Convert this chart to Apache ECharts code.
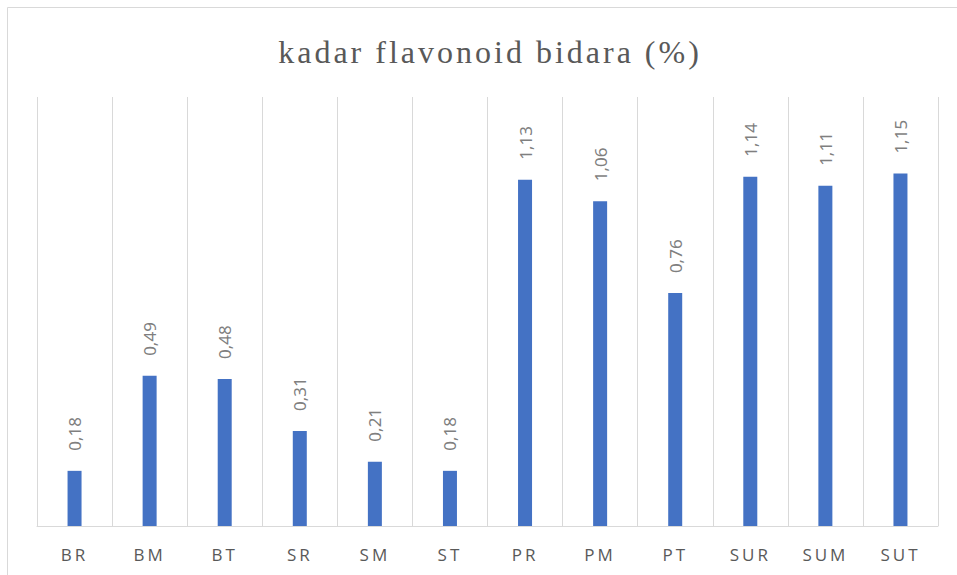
<!DOCTYPE html>
<html>
<head>
<meta charset="utf-8">
<script src="https://cdn.jsdelivr.net/npm/echarts@6/dist/echarts.min.js"></script>
<style>
  * { margin: 0; padding: 0; }
  html, body { width: 957px; height: 575px; background: #fff; overflow: hidden; }
  #chart { width: 957px; height: 575px; }
  /* letter spacing like the original (title + category labels) */
  #chart text[style*="Liberation Serif"] { letter-spacing: 3px; }
  #chart text[style*="Open Sans"] { letter-spacing: 3px; }
</style>
</head>
<body>
<div id="chart"></div>
<script>
  // data
  const categories = ['BR', 'BM', 'BT', 'SR', 'SM', 'ST', 'PR', 'PM', 'PT', 'SUR', 'SUM', 'SUT'];
  const values = [0.18, 0.49, 0.48, 0.31, 0.21, 0.18, 1.13, 1.06, 0.76, 1.14, 1.11, 1.15];
  const titleText = 'kadar flavonoid bidara (%)';

  const chart = echarts.init(document.getElementById('chart'), null, { renderer: 'svg' });

  const option = {
    animation: false,
    backgroundColor: '#fff',
    title: {
      text: titleText,
      left: 485,
      top: 31,
      textAlign: 'center',
      textStyle: {
        fontFamily: 'Liberation Serif',
        fontSize: 32,
        fontWeight: 'normal',
        color: '#595959',
      },
    },
    graphic: [
      {
        type: 'rect',
        shape: { x: 7.5, y: 7.5, width: 1200, height: 1000 },
        style: { fill: 'none', stroke: '#d9d9d9', lineWidth: 1 },
        silent: true,
        z: -1,
      },
    ],
    grid: {
      left: 37,
      right: 19,
      top: 97,
      bottom: 49,
      containLabel: false,
    },
    xAxis: {
      type: 'category',
      data: categories,
      axisLine: { show: true, lineStyle: { color: '#d9d9d9', width: 1 } },
      axisTick: { show: false },
      splitLine: { show: true, lineStyle: { color: '#d9d9d9', width: 1 } },
      axisLabel: {
        color: '#595959',
        fontFamily: 'Open Sans',
        fontSize: 17,
        margin: 20,
        interval: 0,
      },
    },
    yAxis: {
      type: 'value',
      min: 0,
      max: 1.4,
      interval: 0.2,
      axisLine: { show: false },
      axisTick: { show: false },
      axisLabel: { show: false },
      splitLine: { show: false },
    },
    series: [
      {
        type: 'bar',
        data: values,
        barWidth: 14,
        itemStyle: { color: '#4472C4' },
        label: {
          show: true,
          position: 'top',
          rotate: 90,
          align: 'left',
          verticalAlign: 'middle',
          distance: 20,
          color: '#7f7f7f',
          fontFamily: 'Noto Sans',
          fontSize: 17,
          formatter: (p) => p.value.toFixed(2).replace('.', ','),
        },
      },
    ],
  };

  chart.setOption(option);
</script>
</body>
</html>
